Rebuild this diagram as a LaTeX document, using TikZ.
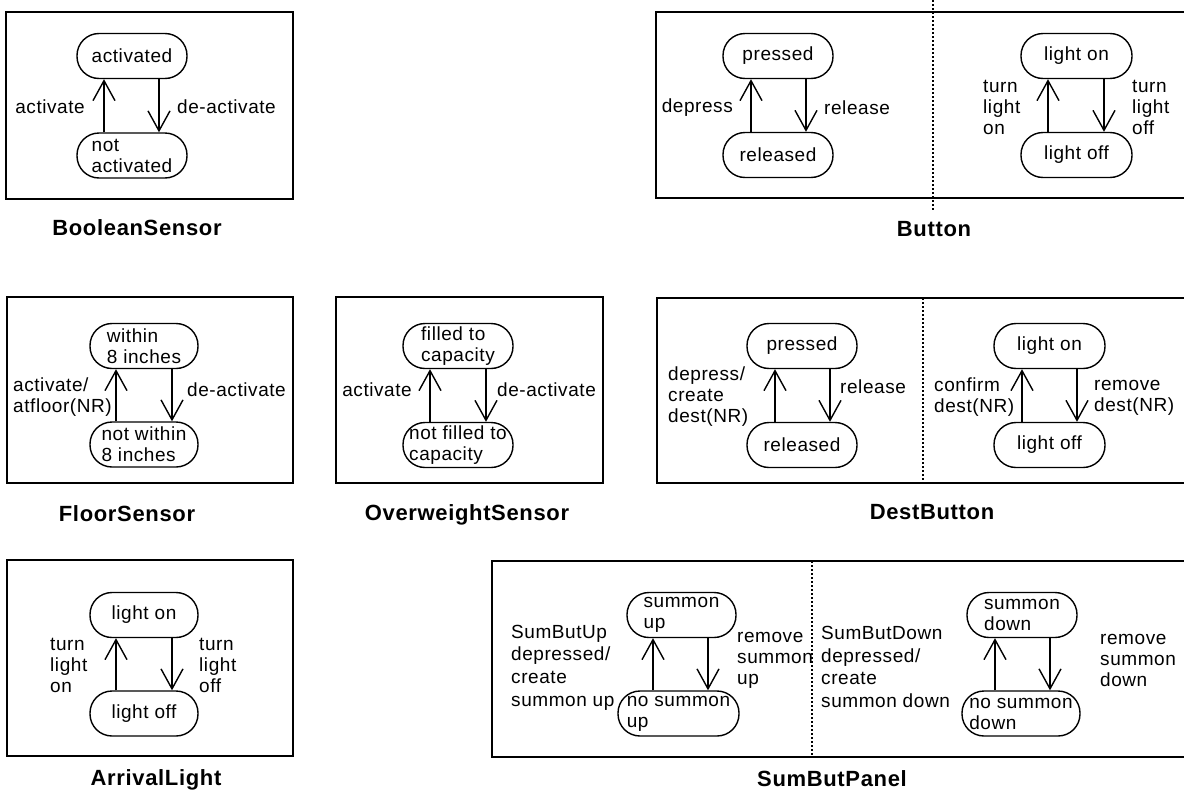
\documentclass[tikz,border=0pt]{standalone}
\usepackage{fontspec}
\setmainfont[LetterSpace=3,Ligatures=NoCommon]{Liberation Sans}
\usetikzlibrary{arrows.meta}

\begin{document}
\begin{tikzpicture}[x=1pt,y=-1pt,
  frame/.style={line width=1.5pt},
  divider/.style={line width=1.5pt, dash pattern=on 1.5pt off 2.5pt},
  state/.style={draw, line width=1.4pt, rounded corners=22pt, minimum height=45pt,
    inner sep=0pt, align=left, font=\fontsize{19}{21}\selectfont},
  lbl/.style={inner sep=0pt, align=left, font=\fontsize{19}{21}\selectfont},
  lbltall/.style={lbl, font=\fontsize{19}{22.7}\selectfont},
  title/.style={inner sep=0pt, font=\fontsize{22}{24}\selectfont\bfseries},
  trans/.style={line width=1.4pt,
    -{Straight Barb[length=20pt,width=22pt,line width=1.4pt]}},
]
\useasboundingbox (0,0) rectangle (1184,798);
\clip (0,0) rectangle (1184,798);

% ---------------- BooleanSensor ----------------
\draw[frame] (6,12) rectangle (293,199);
\node[state, minimum width=110pt] (bsOn)  at (132,56)  {activated};
\node[state, minimum width=110pt] (bsOff) at (132,155.5) {not\\activated};
\draw[trans] (bsOff.north -| 104,0) -- (bsOn.south -| 104,0);
\draw[trans] (bsOn.south -| 159,0) -- (bsOff.north -| 159,0);
\node[lbl, anchor=east] (bsAct) at (85,107) {activate};
\node[lbl, anchor=west] (bsDeact) at (177,107) {de-activate};
\node[title] (bsTitle) at (137,228) {BooleanSensor};

% ---------------- Button ----------------
\draw[frame] (656,12) rectangle (1195,198);
\draw[divider] (933,0) -- (933,210);
\node[state, minimum width=110pt] (btPress) at (778,56)  {pressed};
\node[state, minimum width=110pt] (btRel)   at (778,155) {released};
\draw[trans] (btRel.north -| 751,0) -- (btPress.south -| 751,0);
\draw[trans] (btPress.south -| 806,0) -- (btRel.north -| 806,0);
\node[lbl, anchor=east] (btDep) at (733,108) {depress};
\node[lbl, anchor=west] (btRelL) at (824,108) {release};
\node[state, minimum width=111pt] (btOn)  at (1076.5,56)  {light on};
\node[state, minimum width=111pt] (btOff) at (1076.5,155) {light off};
\draw[trans] (btOff.north -| 1048,0) -- (btOn.south -| 1048,0);
\draw[trans] (btOn.south -| 1104,0) -- (btOff.north -| 1104,0);
\node[lbl, anchor=west] (btTurnOn)  at (983,107)  {turn\\light\\on};
\node[lbl, anchor=west] (btTurnOff) at (1132,107) {turn\\light\\off};
\node[title] (btTitle) at (934,229) {Button};

% ---------------- FloorSensor ----------------
\draw[frame] (7,297) rectangle (293,483);
\node[state, minimum width=108pt] (fsIn)  at (144,346)   {within\\8 inches};
\node[state, minimum width=108pt] (fsOut) at (144,444.5) {not within\\8 inches};
\draw[trans] (fsOut.north -| 116,0) -- (fsIn.south -| 116,0);
\draw[trans] (fsIn.south -| 172,0) -- (fsOut.north -| 172,0);
\node[lbl, anchor=west] (fsAct) at (13,397.5) {activate/\\atfloor(NR)};
\node[lbl, anchor=west] (fsDeact) at (187,390) {de-activate};
\node[title] (fsTitle) at (127,514) {FloorSensor};

% ---------------- OverweightSensor ----------------
\draw[frame] (336,297) rectangle (603,483);
\node[state, minimum width=110pt] (owFull) at (458,346) {filled to\\capacity};
\node[state, minimum width=110pt] (owNot)  at (458,445) {not filled to\\capacity};
\draw[trans] (owNot.north -| 430,0) -- (owFull.south -| 430,0);
\draw[trans] (owFull.south -| 486,0) -- (owNot.north -| 486,0);
\node[lbl, anchor=east] (owAct) at (412,390) {activate};
\node[lbl, anchor=west] (owDeact) at (497,390) {de-activate};
\node[title] (owTitle) at (467,515) {OverweightSensor};

% ---------------- DestButton ----------------
\draw[frame] (657,298) rectangle (1195,483);
\draw[divider] (923,298) -- (923,483);
\node[state, minimum width=110pt] (dbPress) at (802,346) {pressed};
\node[state, minimum width=110pt] (dbRel)   at (802,445) {released};
\draw[trans] (dbRel.north -| 775,0) -- (dbPress.south -| 775,0);
\draw[trans] (dbPress.south -| 830,0) -- (dbRel.north -| 830,0);
\node[lbl, anchor=west] (dbDep) at (668,397) {depress/\\create\\dest(NR)};
\node[lbl, anchor=west] (dbRelL) at (840,387) {release};
\node[state, minimum width=111pt] (dbOn)  at (1049.5,346) {light on};
\node[state, minimum width=111pt] (dbOff) at (1049.5,445) {light off};
\draw[trans] (dbOff.north -| 1022,0) -- (dbOn.south -| 1022,0);
\draw[trans] (dbOn.south -| 1077,0) -- (dbOff.north -| 1077,0);
\node[lbl, anchor=west] (dbConf) at (934,397.5) {confirm\\dest(NR)};
\node[lbl, anchor=west] (dbRem)  at (1094,397.5) {remove\\dest(NR)};
\node[title] (dbTitle) at (932,512) {DestButton};

% ---------------- ArrivalLight ----------------
\draw[frame] (7,560) rectangle (293,756);
\node[state, minimum width=108pt] (alOn)  at (144,615)   {light on};
\node[state, minimum width=108pt] (alOff) at (144,713.5) {light off};
\draw[trans] (alOff.north -| 116,0) -- (alOn.south -| 116,0);
\draw[trans] (alOn.south -| 172,0) -- (alOff.north -| 172,0);
\node[lbl, anchor=west] (alTurnOn)  at (50,665)  {turn\\light\\on};
\node[lbl, anchor=west] (alTurnOff) at (199,665) {turn\\light\\off};
\node[title] (alTitle) at (156,780) {ArrivalLight};

% ---------------- SumButPanel ----------------
\draw[frame] (492,561) rectangle (1195,757);
\draw[divider] (812,561) -- (812,757);
\node[state, minimum width=109pt] (spUp)   at (681.5,615)   {summon\\up};
\node[state, minimum width=121pt] (spNoUp) at (678.5,713.5) {no summon\\up};
\draw[trans] (spNoUp.north -| 653,0) -- (spUp.south -| 653,0);
\draw[trans] (spUp.south -| 708,0) -- (spNoUp.north -| 708,0);
\node[lbltall, anchor=west] (spUpDep) at (511,667.5) {SumButUp\\depressed/\\create\\summon up};
\node[lbl, anchor=west] (spUpRem) at (737,660) {remove\\summon\\up};
\node[state, minimum width=110pt] (spDown)   at (1022,615)   {summon\\down};
\node[state, minimum width=118pt] (spNoDown) at (1021,713.5) {no summon\\down};
\draw[trans] (spNoDown.north -| 995,0) -- (spDown.south -| 995,0);
\draw[trans] (spDown.south -| 1050,0) -- (spNoDown.north -| 1050,0);
\node[lbltall, anchor=west] (spDownDep) at (821,667) {SumButDown\\depressed/\\create\\summon down};
\node[lbl, anchor=west] (spDownRem) at (1100,660) {remove\\summon\\down};
\node[title] (spTitle) at (832,779) {SumButPanel};
\end{tikzpicture}
\end{document}
